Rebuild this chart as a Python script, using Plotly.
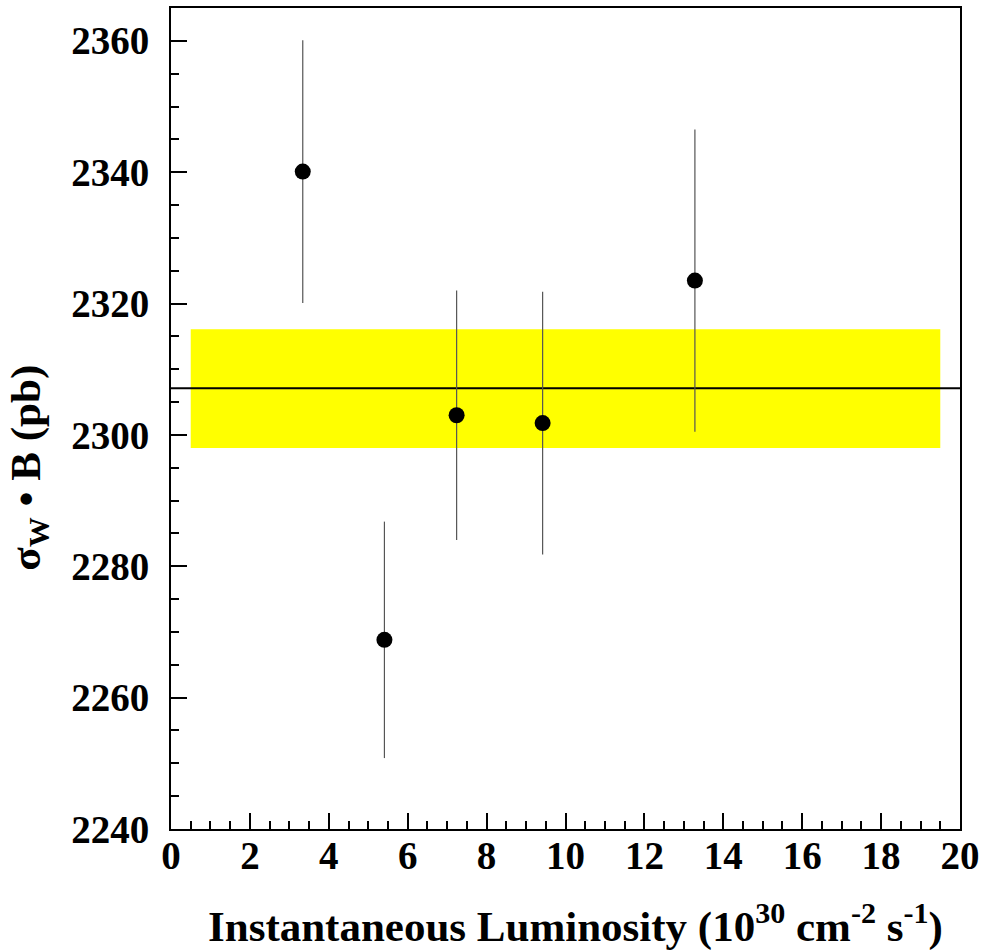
import plotly.graph_objects as go

# Data
lumi = [3.34, 5.41, 7.24, 9.42, 13.28]
sigma_b = [2340.1, 2268.8, 2303.0, 2301.8, 2323.5]
sigma_err = [20.0, 18.0, 19.0, 20.0, 23.0]

band_x = [0.5, 19.5]
band_low = 2298.0
band_high = 2316.1
mean_x = [0, 20]
mean_val = 2307.1

x_ticks = [0, 2, 4, 6, 8, 10, 12, 14, 16, 18, 20]
y_ticks = [2240, 2260, 2280, 2300, 2320, 2340, 2360]

x_title = "<b>Instantaneous Luminosity (10<sup>30</sup> cm<sup>-2</sup> s<sup>-1</sup>)</b>"
y_title = "<b>σ<sub>W</sub> • B (pb)</b>"

FONT = "Liberation Serif"

fig = go.Figure()

# yellow band (combined average +- error)
fig.add_trace(go.Scatter(
    x=[band_x[0], band_x[1], band_x[1], band_x[0], band_x[0]],
    y=[band_low, band_low, band_high, band_high, band_low],
    fill="toself", fillcolor="#ffff00", mode="lines",
    line=dict(width=0, color="#ffff00"), hoverinfo="skip", showlegend=False,
))

# mean line
fig.add_trace(go.Scatter(
    x=mean_x, y=[mean_val, mean_val], mode="lines",
    line=dict(color="black", width=2), showlegend=False,
))

# data points with error bars
fig.add_trace(go.Scatter(
    x=lumi, y=sigma_b, mode="markers",
    marker=dict(color="black", size=16, symbol="circle"),
    error_y=dict(type="data", array=sigma_err, visible=True,
                 color="#555555", thickness=1.2, width=0),
    showlegend=False,
))

axis_common = dict(
    showline=True, linecolor="black", linewidth=2, mirror=True,
    ticks="inside", tickcolor="black", tickwidth=2, ticklen=16,
    showgrid=False, zeroline=False, automargin=False,
    tickfont=dict(family=FONT, size=39, color="black", weight="bold"),
)

fig.update_xaxes(
    range=[0, 20], tickvals=x_ticks, ticktext=[str(v) for v in x_ticks],
    minor=dict(ticks="inside", ticklen=8, tickwidth=2, tickcolor="black", dtick=0.5),
    ticklabelstandoff=-9,
    **axis_common,
)
fig.update_yaxes(
    range=[2240, 2365], tickvals=y_ticks, ticktext=[str(v) for v in y_ticks],
    minor=dict(ticks="inside", ticklen=8, tickwidth=2, tickcolor="black", dtick=5),
    ticklabelstandoff=12,
    **axis_common,
)

fig.update_layout(
    width=983, height=951,
    margin=dict(l=171, r=23, t=8, b=122),
    plot_bgcolor="white", paper_bgcolor="white",
    showlegend=False,
    annotations=[
        dict(text=x_title, xref="paper", yref="paper", x=0.513, y=-0.115,
             xanchor="center", yanchor="middle", showarrow=False,
             font=dict(family=FONT, size=43, color="black")),
        dict(text=y_title, xref="paper", yref="paper", x=-0.18, y=0.44,
             xanchor="center", yanchor="middle", showarrow=False, textangle=-90,
             font=dict(family=FONT, size=43, color="black")),
    ],
)

fig.write_html(
    "out.html",
    config={"displayModeBar": False},
    post_script="document.body.style.margin='0';document.body.style.overflow='hidden';",
)
